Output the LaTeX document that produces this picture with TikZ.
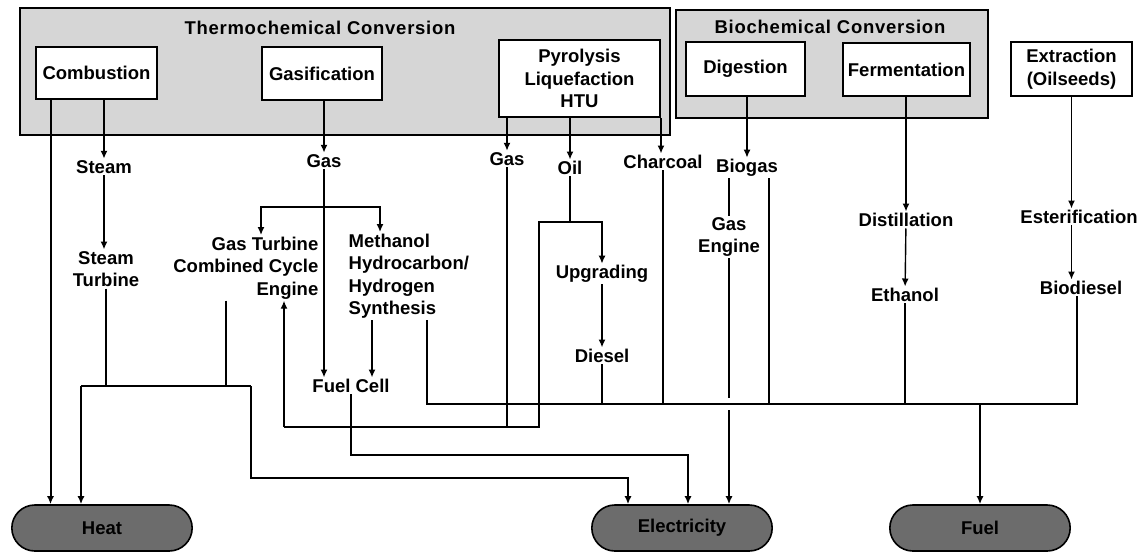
\documentclass[tikz,border=0pt]{standalone}
\usepackage{fontspec}
\setmainfont{Liberation Sans}
\newfontfamily\ttlfamily[LetterSpace=4]{Liberation Sans}
\usepackage{tikz}
\usetikzlibrary{arrows.meta,positioning,shapes.misc}
\usepackage{xcolor}
\definecolor{GroupGrey}{HTML}{D6D6D6}
\definecolor{SinkGrey}{HTML}{6C6C6C}
\newcommand{\lblfont}{\fontsize{18.5}{22.5}\selectfont\bfseries}
\newcommand{\ttlfont}{\ttlfamily\fontsize{18.5}{21}\selectfont\bfseries}
\tikzset{
  groupbox/.style={draw,line width=1.6pt,fill=GroupGrey,inner sep=0pt},
  grouptitle/.style={font=\ttlfont,inner sep=1pt},
  procnode/.style={draw,line width=2pt,fill=white,align=center,font=\lblfont,inner sep=2pt},
  textnode/.style={align=center,font=\lblfont,inner sep=1.5pt},
  sinknode/.style={rounded rectangle,draw,line width=1.6pt,fill=SinkGrey,minimum width=187pt,minimum height=46pt,font=\lblfont},
  flow/.style={-{Latex[length=8pt,width=7pt]},line width=2pt},
  thinflow/.style={-{Latex[length=8pt,width=7pt]},line width=1.4pt},
  link/.style={line width=2pt},
  thinlink/.style={line width=1.4pt}
}
\begin{document}
\begin{tikzpicture}[x=1pt,y=-1pt]
\useasboundingbox (0,0) rectangle (1147,554);
% conversion groups
\node[groupbox,minimum width=650pt,minimum height=127pt] (thermo) at (345,71.5) {};
\node[groupbox,minimum width=312pt,minimum height=108pt] (bio) at (832,64) {};
\node[grouptitle] (thermotitle) at (320,28) {Thermochemical Conversion};
\node[grouptitle] (biotitle) at (830,27) {Biochemical Conversion};
% processes
\node[procnode,minimum width=121pt,minimum height=52pt] (comb) at (96.5,73) {Combustion};
\node[procnode,minimum width=120pt,minimum height=53pt] (gasif) at (322,73.5) {Gasification};
\node[procnode,minimum width=161pt,minimum height=77pt] (pyro) at (579.5,78.5) {Pyrolysis\\Liquefaction\\HTU};
\node[procnode,minimum width=119pt,minimum height=54pt] (digest) at (745.5,69) {Digestion};
\node[procnode,minimum width=127pt,minimum height=53pt] (ferment) at (906.5,69.5) {Fermentation};
\node[procnode,minimum width=121pt,minimum height=54pt] (extract) at (1071.5,69) {Extraction\\(Oilseeds)};
% intermediate products
\node[textnode] (steam) at (104,167) {Steam};
\node[textnode] (steamturb) at (106,269) {Steam\\Turbine};
\node[textnode] (gas) at (324,161) {Gas};
\node[textnode,align=right,anchor=north east] (gasturb) at (320,235) {Gas Turbine\\Combined Cycle\\Engine};
\node[textnode,align=left,anchor=north west] (methanol) at (347,232) {Methanol\\Hydrocarbon/\\Hydrogen\\Synthesis};
\node[textnode] (fuelcell) at (351,386) {Fuel Cell};
\node[textnode] (pgas) at (507,159) {Gas};
\node[textnode] (oil) at (570,168) {Oil};
\node[textnode] (upgrading) at (602,274) {Upgrading};
\node[textnode] (diesel) at (602,356) {Diesel};
\node[textnode] (charcoal) at (663,162) {Charcoal};
\node[textnode] (biogas) at (747,168) {Biogas};
\node[textnode] (gasengine) at (729,237) {Gas\\Engine};
\node[textnode] (distill) at (906,220) {Distillation};
\node[textnode] (ethanol) at (905,295) {Ethanol};
\node[textnode] (ester) at (1079,217) {Esterification};
\node[textnode] (biodiesel) at (1081,288) {Biodiesel};
% end uses
\node[sinknode] (heat) at (102,528) {Heat};
\node[sinknode] (elec) at (682,528) {Electricity};
\node[sinknode] (fuel) at (980,528) {Fuel};
% junctions
\coordinate (hbL) at (81,386);
\coordinate (hbR) at (251,386);
\coordinate (gtj) at (226,386);
\coordinate (elbend) at (251,478);
\coordinate (gsplit) at (324,207);
\coordinate (loopL) at (284,427);
\coordinate (loopR) at (539,427);
\coordinate (osplit) at (570,222);
\coordinate (fcbend) at (351,455);
\coordinate (busL) at (427,404);
\coordinate (busR) at (1077,404);
% combustion route
\coordinate (c1) at ([xshift=-46pt]comb.south);
\draw[flow] (c1) -- (c1 |- heat.north);
\draw[flow] (steam.north |- comb.south) -- (steam.north);
\draw[flow] (steam.south) -- (steam.south |- steamturb.north);
\draw[link] (steamturb.south) -- (steamturb.south |- hbL);
\draw[link] (gtj |- gasturb.south) -- (gtj);
\draw[link] (hbL) -- (hbR);
\draw[flow] (hbL) -- (hbL |- heat.north);
\draw[flow] (hbR) -- (elbend) -| ([xshift=-54pt]elec.north);
% gasification route
\draw[flow] (gas.north |- gasif.south) -- (gas.north);
\draw[flow] (gas.south) -- (gas.south |- fuelcell.north);
\draw[thinflow] (gsplit) -| ([xshift=-59pt]gasturb.north east);
\draw[thinflow] (gsplit) -| ([xshift=33pt]methanol.north west);
\coordinate (mdn) at ([xshift=25pt]methanol.south west);
\draw[flow] (mdn) -- (mdn |- fuelcell.north);
\draw[flow] (fuelcell.south) -- (fcbend) -| ([xshift=6pt]elec.north);
% pyrolysis route
\draw[thinflow] (pgas.north |- pyro.south) -- (pgas.north);
\draw[thinflow] (oil.north |- pyro.south) -- (oil.north);
\draw[thinflow] (pyro.south east) -- (pyro.south east |- charcoal.north);
\draw[thinlink] (pgas.south) |- (loopL);
\draw[thinflow] (loopL) -- (loopL |- gasturb.south);
\draw[thinlink] (oil.south) -- (osplit);
\draw[thinlink] (osplit) -| (loopR) -- (pgas.south |- loopR);
\draw[thinflow] (osplit) -| (upgrading.north);
\draw[flow] (upgrading) -- (diesel);
\draw[link] (diesel.south) -- (diesel.south |- busL);
\draw[link] (charcoal.south) -- (charcoal.south |- busL);
% fuel bus
\draw[link] (busL |- methanol.south) -- (busL) -- (busR) -- (busR |- biodiesel.south);
\draw[flow] (fuel.north |- busL) -- (fuel.north);
% biochemical route
\draw[thinflow] (biogas.north |- digest.south) -- (biogas.north);
\draw[thinlink] (gasengine.north |- biogas.south) -- (gasengine.north);
\draw[link] (gasengine.south) -- ([yshift=6pt]gasengine.south |- busL);
\draw[flow] ([yshift=-6pt]gasengine.south |- busL) -- (gasengine.south |- elec.north);
\draw[link] ([xshift=22pt]biogas.south) -- ([xshift=22pt]biogas.south |- busL);
\draw[thinflow] (distill.north |- ferment.south) -- (distill.north);
\draw[thinflow] (distill) -- (ethanol);
\draw[link] (ethanol.south) -- (ethanol.south |- busL);
% extraction route
\draw[thinflow] (extract.south) -- (extract.south |- ester.north);
\draw[thinflow] (extract.south |- ester.south) -- (extract.south |- biodiesel.north);
\end{tikzpicture}
\end{document}
